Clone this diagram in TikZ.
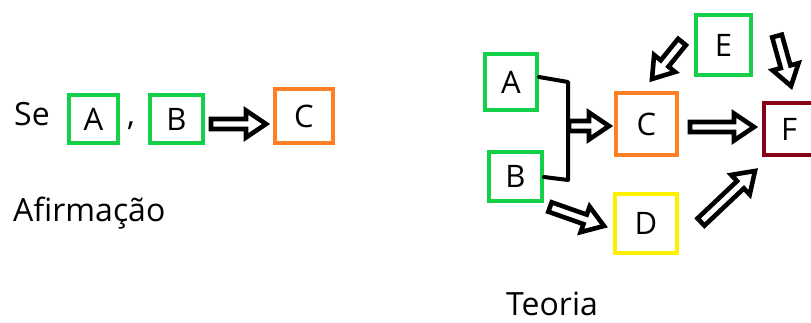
\documentclass[tikz,border=0pt]{standalone}
\usepackage{fontspec}
\setmainfont{Open Sans}
\usetikzlibrary{calc}
\definecolor{boxgreen}{RGB}{20,208,72}
\definecolor{boxorange}{RGB}{255,127,39}
\definecolor{boxyellow}{RGB}{255,240,0}
\definecolor{boxdarkred}{RGB}{136,0,21}
\newcommand\bashaft{5pt}
\newcommand\bawide{13.5pt}
\newcommand\bahead{20pt}
\tikzset{
  box/.style={draw, line width=4pt, inner sep=0pt, font=\fontsize{31}{31}\selectfont},
  lbl/.style={inner sep=0pt, font=\fontsize{32}{32}\selectfont},
  % hollow block arrow drawn from the start point to the target point
  blockarrow/.style={draw=black, fill=white, line width=4.6pt, line join=miter, miter limit=10,
    to path={
      let \p1=($(\tikztotarget)!\bahead!(\tikztostart)$) in
      ($(\tikztostart)!\bashaft!90:(\tikztotarget)$)
      -- ($(\p1)!\bashaft!-90:(\tikztostart)$)
      -- ($(\p1)!\bawide!-90:(\tikztostart)$)
      -- (\tikztotarget)
      -- ($(\p1)!\bawide!90:(\tikztostart)$)
      -- ($(\p1)!\bashaft!90:(\tikztostart)$)
      -- ($(\tikztostart)!\bashaft!-90:(\tikztotarget)$)
      -- cycle}},
  bracket/.style={draw=black, line width=4pt, line join=round, line cap=round}
}
\begin{document}
\begin{tikzpicture}[x=1pt, y=-1pt]
\useasboundingbox (0,0) rectangle (811,323);
\clip (0,0) rectangle (811,323);

% ---- statement: Se A , B => C
\node[lbl, anchor=base west] (se) at (14,126) {Se};
\node[box, draw=boxgreen, minimum width=49pt, minimum height=48pt] (a1) at (93.5,119) {A};
\node[lbl, anchor=base] (comma) at (131,126) {,};
\node[box, draw=boxgreen, minimum width=53pt, minimum height=48pt] (b1) at (176.5,119) {B};
\node[box, draw=boxorange, minimum width=58pt, minimum height=54pt] (c1) at (304,116) {C};
\node[lbl, anchor=base west] (afirm) at (13,222) {Afirmação};

\coordinate (s1) at (211,124);
\coordinate (t1) at (266,124);
\draw[blockarrow] (s1) to (t1);

% ---- theory graph
\node[box, draw=boxgreen, minimum width=52pt, minimum height=56pt] (a2) at (511,82) {A};
\node[box, draw=boxgreen, minimum width=53pt, minimum height=49pt] (b2) at (515.5,176.5) {B};
\node[box, draw=boxorange, minimum width=61pt, minimum height=62pt] (c2) at (646.5,124) {C};
\node[box, draw=boxyellow, minimum width=62pt, minimum height=59pt] (d2) at (646,223.5) {D};
\node[box, draw=boxgreen, minimum width=55pt, minimum height=60pt] (e2) at (723.5,45) {E};
\node[box, draw=boxdarkred, minimum width=50pt, minimum height=52pt] (f2) at (789,129) {F};
\node[lbl, anchor=base west] (teoria) at (506,315) {Teoria};

% bracket joining A and B
\coordinate (jn) at (568,82);
\coordinate (js) at (568,180);
\draw[bracket] (a2.east |- 0,77) -- (jn) -- (js) -- (b2.east |- 0,177);

% arrow end points
\coordinate (jc) at (569,126);
\coordinate (cin) at (609,126);
\coordinate (cout) at (690,127);
\coordinate (fin) at (754,127);
\coordinate (eca) at (682,42);
\coordinate (ecb) at (652,79);
\coordinate (efa) at (777,36);
\coordinate (efb) at (791,86);
\coordinate (bda) at (550,207);
\coordinate (bdb) at (604,226);
\coordinate (dfa) at (701,222);
\coordinate (dfb) at (755,171);

\draw[blockarrow] (jc) to (cin);
\draw[blockarrow] (cout) to (fin);
\draw[blockarrow] (eca) to (ecb);
\draw[blockarrow] (efa) to (efb);
\draw[blockarrow] (bda) to (bdb);
\draw[blockarrow] (dfa) to (dfb);
\end{tikzpicture}
\end{document}
